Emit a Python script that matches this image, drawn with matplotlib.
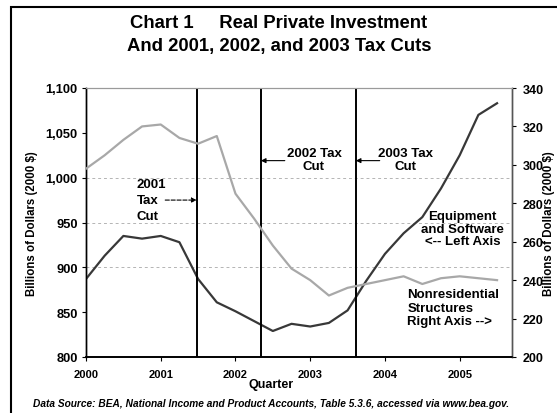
import numpy as np
import matplotlib.pyplot as plt
from matplotlib.patches import Rectangle

plt.rcParams['font.family'] = ['Liberation Sans', 'DejaVu Sans']

# Quarterly data, 2000 Q1 .. 2005 Q3 (billions of 2000 dollars)
quarters = 2000 + 0.25 * np.arange(23)
equipment_software = [887, 913, 935, 932, 935, 928, 887, 861, 851, 840, 829, 837,
                      834, 838, 852, 885, 915, 938, 956, 988, 1025, 1070, 1083]
nonres_structures = [298, 305, 313, 320, 321, 314, 311, 315, 285, 272, 258, 246,
                     240, 232, 236, 238, 240, 242, 238, 241, 242, 241, 240]
tax_cuts = [2001.48, 2002.34, 2003.61]
year_ticks = [2000, 2001, 2002, 2003, 2004, 2005]
left_ticks = [800, 850, 900, 950, 1000, 1050, 1100]
right_ticks = [200, 220, 240, 260, 280, 300, 320, 340]

W, H = 557, 414
fig = plt.figure(figsize=(W / 100, H / 100), dpi=100)
ax = fig.add_axes([86 / W, 1 - 358 / H, 426 / W, 269 / H])
ax2 = ax.twinx()

# gridlines (only the middle ones show on the original)
for g in [900, 950, 1000]:
    ax.axhline(g, color='#b4b4b4', lw=0.7, ls=(0, (3, 3)), zorder=0)

ax.plot(quarters, equipment_software, color='#383838', lw=1.6, zorder=3)
ax2.plot(quarters, nonres_structures, color='#a8a8a8', lw=1.6, zorder=3)

for tc in tax_cuts:
    ax.axvline(tc, color='black', lw=1.4, zorder=4)

ax.set_xlim(2000, 2005.70)
ax.set_ylim(800, 1100)
ax2.set_ylim(200, 340)
ax.set_xticks(year_ticks)
ax.set_xticklabels([str(y) for y in year_ticks], fontsize=8, fontweight='bold')
ax.set_yticks(left_ticks)
ax.set_yticklabels([f'{v:,}' for v in left_ticks], fontsize=9.3, fontweight='bold')
ax2.set_yticks(right_ticks)
ax2.set_yticklabels([str(v) for v in right_ticks], fontsize=9, fontweight='bold')
ax.tick_params(axis='both', direction='out', length=3, width=0.8, pad=3)
ax2.tick_params(axis='y', direction='out', length=3, width=0.8, pad=5)
ax.tick_params(axis='x', pad=6)

for a in (ax, ax2):
    a.spines['top'].set_color('#9a9a9a')
    a.spines['top'].set_linewidth(0.8)
    a.spines['left'].set_linewidth(1.0)
    a.spines['bottom'].set_linewidth(1.2)
    a.spines['right'].set_linewidth(1.0)
    a.spines['right'].set_color('#555555')

lab = dict(fontsize=8.3, fontweight='bold', rotation=90, ha='center', va='center')
fig.text(32 / W, 1 - 224 / H, 'Billions of Dollars (2000 $)', **lab)
fig.text(549 / W, 1 - 224 / H, 'Billions of Dollars (2000 $)', **lab)
fig.text(271 / W, 1 - 385 / H, 'Quarter', ha='center', va='center',
         fontsize=9, fontweight='bold')

fig.text(279 / W, 1 - 24 / H, 'Chart 1     Real Private Investment',
         ha='center', va='center', fontsize=13.3, fontweight='bold')
fig.text(279 / W, 1 - 47 / H, 'And 2001, 2002, and 2003 Tax Cuts',
         ha='center', va='center', fontsize=13.3, fontweight='bold')
fig.text(271.5 / W, 1 - 404 / H,
         'Data Source: BEA, National Income and Product Accounts, Table 5.3.6, accessed via www.bea.gov.',
         ha='center', va='center', fontsize=7.25, fontweight='bold', style='italic')

# annotations
kw = dict(fontsize=9.5, fontweight='bold', zorder=5)
arrow = dict(arrowstyle='-|>', lw=0.8, color='black', mutation_scale=7,
             shrinkA=0, shrinkB=0)
ax.text(2000.68, 975, '2001\nTax\nCut', ha='left', va='center', linespacing=1.4, **kw)
ax.annotate('', xy=(tax_cuts[0], 975), xytext=(2001.06, 975),
            arrowprops=dict(arrow, ls='--'))
ax.text(2003.05, 1020, '2002 Tax\nCut', ha='center', va='center', linespacing=1.1, **kw)
ax.annotate('', xy=(tax_cuts[1], 1019), xytext=(2002.66, 1019), arrowprops=arrow)
ax.text(2004.27, 1020, '2003 Tax\nCut', ha='center', va='center', linespacing=1.1, **kw)
ax.annotate('', xy=(tax_cuts[2], 1019), xytext=(2003.93, 1019), arrowprops=arrow)
ax.text(2005.04, 943, 'Equipment\nand Software\n<-- Left Axis', ha='center', va='center',
        linespacing=1.05, **kw)
ax.text(2004.30, 855, 'Nonresidential\nStructures\nRight Axis -->', ha='left', va='center',
        linespacing=1.15, **kw)

# outer frame (cut off at the right and bottom of the page)
fig.patches.append(Rectangle((11 / W, -0.05), 1.2, 1 - 8 / H + 0.05,
                             transform=fig.transFigure, fill=False, lw=1.5,
                             edgecolor='black'))

fig.savefig('out.png', dpi=100)
